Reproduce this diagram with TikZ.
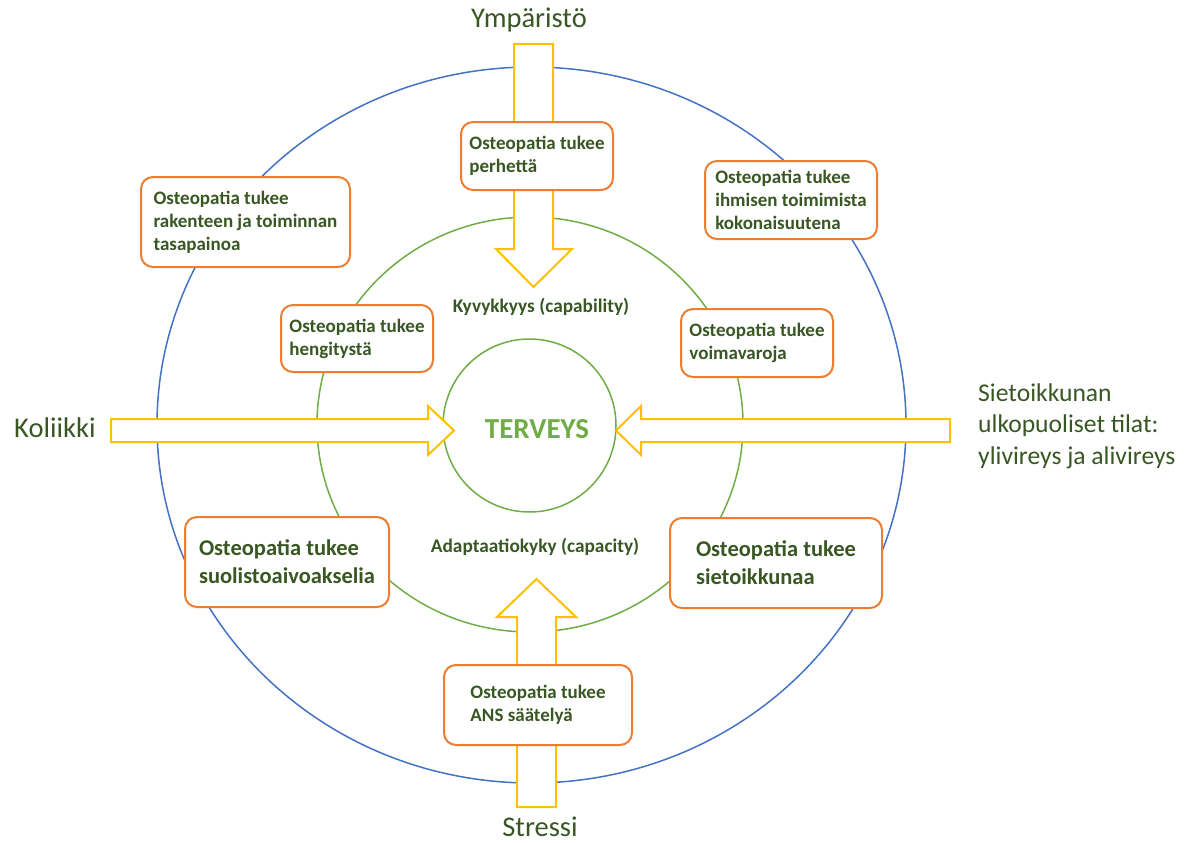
\documentclass[tikz,border=0pt]{standalone}
\usepackage{fontspec}
\setmainfont{Carlito}
\definecolor{textgreen}{HTML}{385723}
\definecolor{ringblue}{HTML}{4472C4}
\definecolor{ringgreen}{HTML}{70AD47}
\definecolor{boxorange}{HTML}{ED7D31}
\definecolor{arrowyellow}{HTML}{FFC000}
\tikzset{
  {ring/.style} ={draw=#1,line width=1.5pt},
  {blockarrow/.style} ={draw=arrowyellow,fill=white,line width=2pt,line join=miter},
  {box/.style} ={rectangle,rounded corners=12pt,draw=boxorange,fill=white,
                 line width=2pt,align=left,text=textgreen,inner xsep=2pt,
                 font=\bfseries\fontsize{19}{23}\selectfont},
  {bigbox/.style} ={box,font=\bfseries\fontsize{22.5}{28}\selectfont},
  {outer label/.style} ={text=textgreen,inner sep=0,font=\fontsize{28.5}{34}\selectfont},
  {ring label/.style} ={text=textgreen,inner sep=0,font=\bfseries\fontsize{19.3}{23}\selectfont},
}
\begin{document}
\begin{tikzpicture}[x=1pt,y=-1pt]
\useasboundingbox (0,0) rectangle (1192,843);
% rings
\draw[ring=ringblue] (531.5,425) ellipse [x radius=374.5, y radius=358];
\draw[ring=ringgreen] (530,424.5) ellipse [x radius=213, y radius=207.5];
\draw[ring=ringgreen] (529.5,425.5) circle [radius=86.5];
% block arrows
\draw[blockarrow] (514,44) -- (553,44) -- (553,249) -- (572,249) -- (533.5,287)
  -- (496,249) -- (514,249) -- cycle;
\draw[blockarrow] (517,807) -- (556,807) -- (556,617) -- (576,617) -- (536.5,579)
  -- (497,617) -- (517,617) -- cycle;
\draw[blockarrow] (111,419) -- (428,419) -- (428,406) -- (454,430.5) -- (428,455)
  -- (428,442) -- (111,442) -- cycle;
\draw[blockarrow] (950,419) -- (641,419) -- (641,406) -- (616,430.5) -- (641,455)
  -- (641,442) -- (950,442) -- cycle;
% labels
\node[outer label,anchor=base] (ymp) at (529,28) {Ympäristö};
\node[outer label,anchor=base west] (kol) at (14,437) {Koliikki};
\node[outer label,anchor=west,align=left,
      font=\fontsize{25.6}{31.5}\selectfont] (sieto) at (978,426)
      {Sietoikkunan\\ulkopuoliset tilat:\\ylivireys ja alivireys};
\node[outer label,anchor=base] (str) at (540,836) {Stressi};
\node[text=ringgreen,inner sep=0,anchor=base,
      font=\bfseries\fontsize{29}{34}\selectfont] (terv) at (537,438) {TERVEYS};
\node[ring label,anchor=base] (kyky) at (541,312) {Kyvykkyys (capability)};
\node[ring label,anchor=base] (adapt) at (535,552) {Adaptaatiokyky (capacity)};
% boxes
\node[box,minimum width=152pt,minimum height=68pt] (perhe) at (537,156)
  {Osteopatia tukee\\perhettä};
\node[box,minimum width=209pt,minimum height=90pt] (rakenne) at (245.5,222)
  {Osteopatia tukee\\rakenteen ja toiminnan\\tasapainoa};
\node[box,minimum width=152pt,minimum height=67pt] (hengitys) at (357,338.5)
  {Osteopatia tukee\\hengitystä};
\node[box,minimum width=172pt,minimum height=78pt] (ihminen) at (791,200)
  {Osteopatia tukee\\ihmisen toimimista\\kokonaisuutena};
\node[box,minimum width=152pt,minimum height=68pt] (voima) at (757,343)
  {Osteopatia tukee\\voimavaroja};
\node[bigbox,minimum width=204pt,minimum height=90pt] (suolisto) at (287,562)
  {Osteopatia tukee\\suolistoaivoakselia};
\node[bigbox,minimum width=212pt,minimum height=90pt] (sietobox) at (776,563)
  {Osteopatia tukee\\sietoikkunaa};
\node[box,minimum width=188pt,minimum height=80pt] (ans) at (538,705)
  {Osteopatia tukee\\ANS säätelyä};
\end{tikzpicture}
\end{document}
